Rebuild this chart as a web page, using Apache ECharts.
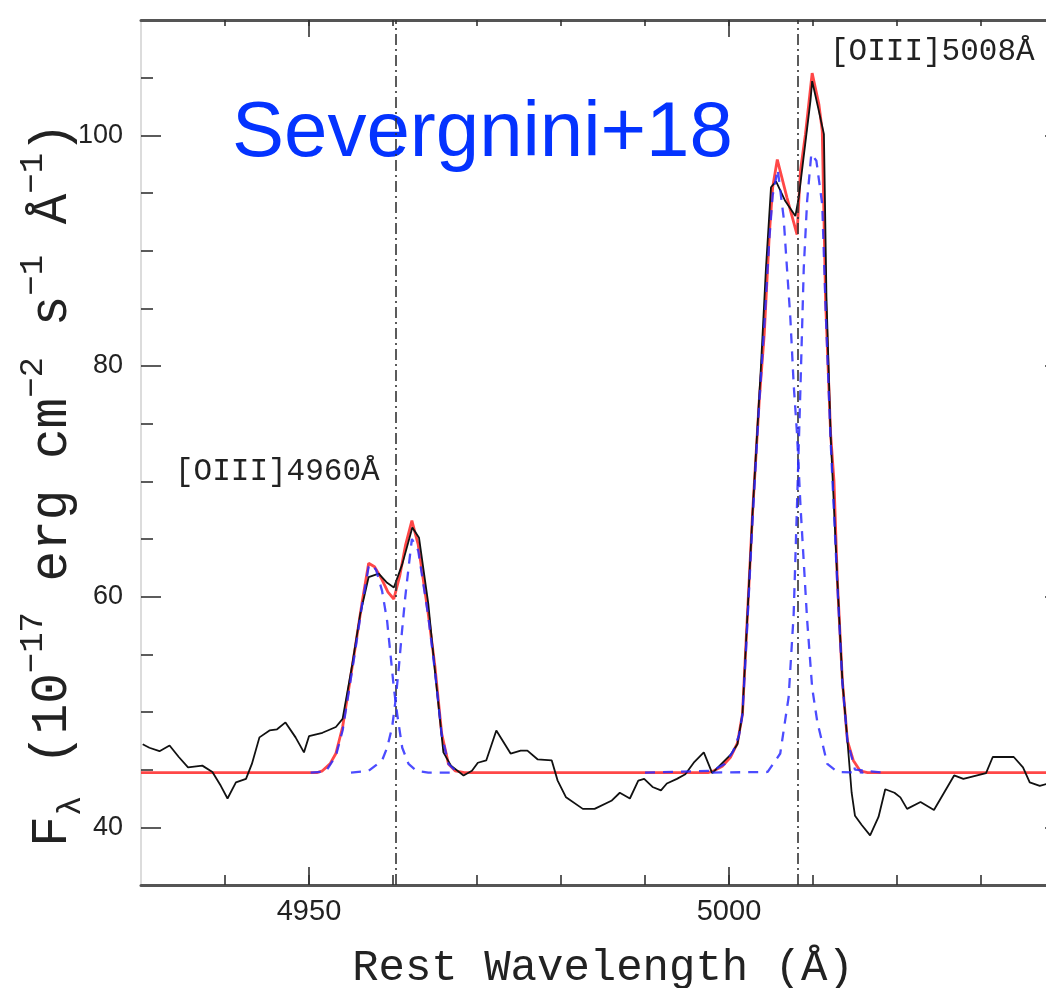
<!DOCTYPE html>
<html>
<head>
<meta charset="utf-8">
<script src="https://cdn.jsdelivr.net/npm/echarts@6/dist/echarts.min.js"></script>
<style>
html, body { margin: 0; padding: 0; background: #fff; }
#chart { width: 1046px; height: 988px; }
</style>
</head>
<body>
<div id="chart"></div>
<script>
// Observed [OIII] spectrum (rest wavelength in Å, flux in 1e-17 erg/cm2/s/Å)
const obsWave = [4930.2,4931.0,4932.2,4933.4,4934.5,4935.6,4937.3,4938.5,4939.5,4940.3,
  4941.3,4942.5,4943.2,4944.1,4945.3,4946.2,4947.2,4948.4,4949.4,4950.0,
  4951.6,4953.2,4954.0,4955.1,4956.1,4957.1,4958.3,4959.3,4960.1,4961.1,
  4962.3,4963.1,4964.2,4965.0,4966.0,4966.9,4968.4,4969.4,4970.1,4971.1,
  4972.3,4974.0,4975.2,4976.0,4977.2,4978.9,4979.6,4980.6,4982.6,4984.0,
  4986.0,4987.0,4988.2,4989.2,4989.9,4990.9,4991.9,4992.6,4993.8,4994.8,
  4995.8,4997.0,4998.0,4999.1,5000.2,5001.0,5001.6,5002.0,5002.4,5002.8,
  5003.8,5004.4,5005.0,5005.6,5006.7,5007.9,5008.3,5009.7,5009.9,5010.7,
  5011.3,5011.6,5012.1,5012.9,5013.5,5014.1,5014.6,5015.0,5015.8,5016.8,
  5017.8,5018.6,5019.7,5020.4,5021.2,5022.8,5024.4,5026.8,5027.9,5030.6,
  5031.4,5033.9,5035.0,5035.8,5037.0,5038.0,5040.0];
const obsFlux = [47.2,46.9,46.6,47.1,46.1,45.2,45.35,44.8,43.6,42.5,
  43.9,44.2,45.5,47.8,48.4,48.5,49.1,47.8,46.5,47.9,
  48.2,48.7,49.4,53.9,58.5,61.7,62.0,61.2,60.8,62.8,
  66.0,65.1,59.4,53.5,46.5,45.35,44.5,44.9,45.6,45.8,
  48.4,46.4,46.65,46.65,45.9,45.8,44.05,42.6,41.6,41.6,
  42.3,43.0,42.5,44.05,44.2,43.5,43.2,43.8,44.2,44.6,
  45.6,46.5,44.7,45.5,46.3,47.2,49.8,55.6,61.4,67.2,
  79.9,88.5,95.5,96.0,94.3,93.0,94.6,103.0,104.7,102.1,
  100.1,86.0,74.0,61.4,52.7,47.5,43.0,41.0,40.2,39.3,
  40.9,43.3,43.0,42.6,41.6,42.2,41.5,44.5,44.2,44.7,
  46.1,46.1,45.2,43.9,43.6,43.8,43.9];

// Total model (continuum + all Gaussian components)
const fitWave = [4930.0,4951.0,4951.6,4952.5,4953.2,4954.0,4954.75,4955.5,4956.3,4957.1,
  4957.8,4958.6,4959.4,4960.1,4960.8,4961.5,4962.25,4963.0,4964.2,4965.0,
  4965.8,4966.6,4967.4,4968.5,4997.5,4998.2,4999.2,5000.2,5001.0,5001.6,
  5002.0,5002.4,5002.8,5003.6,5004.2,5004.8,5005.2,5005.75,5006.9,5008.1,
  5008.5,5009.1,5009.9,5010.7,5011.1,5011.5,5012.1,5012.5,5012.9,5013.5,
  5014.1,5014.8,5015.6,5016.5,5040.0];
const fitFlux = [44.75,44.75,44.9,45.5,46.4,48.7,52.1,55.6,59.4,62.9,
  62.6,61.6,60.4,59.8,61.8,64.5,66.6,64.5,58.5,53.9,
  48.1,45.5,44.9,44.75,44.75,44.9,45.3,46.1,47.3,49.8,
  55.6,61.4,67.2,77.0,82.8,91.4,95.5,97.9,94.6,91.4,
  96.9,100.1,105.4,102.7,100.4,85.6,74.1,70.0,61.4,52.7,
  47.5,45.8,44.9,44.75,44.75];

// Individual components of [OIII]4960 (blue- and red-shifted)
const comp1Wave = [4950.2,4952.0,4953.2,4954.0,4954.75,4955.5,4956.3,4957.1,4957.5,4958.0,
  4958.7,4959.3,4959.7,4960.1,4960.5,4961.1,4961.85,4962.8,4964.2,4967.6];
const comp1Flux = [44.75,44.85,46.2,48.4,51.8,55.3,59.2,62.6,62.8,62.3,
  60.5,57.9,55.0,52.1,49.8,46.9,45.5,44.9,44.75,44.75];
const comp2Wave = [4955.0,4957.1,4958.7,4959.3,4959.9,4960.3,4960.7,4961.07,4961.45,4961.85,
  4962.25,4963.0,4964.2,4965.0,4965.8,4966.6,4967.6];
const comp2Flux = [44.75,44.9,45.8,46.9,48.7,51.0,53.9,57.0,59.9,62.5,
  65.0,64.0,58.3,53.5,48.0,45.5,44.8];

// Individual components of [OIII]5008
const comp3Wave = [4990.0,4998.0,4999.5,5000.5,5001.2,5001.6,5002.0,5002.4,5002.8,5003.6,
  5004.2,5004.8,5005.2,5005.8,5006.5,5006.9,5007.3,5007.7,5008.1,5008.5,
  5009.3,5009.9,5010.5,5011.7,5012.9,5016.0];
const comp3Flux = [44.75,44.9,45.5,46.6,48.0,49.8,55.0,60.8,66.5,76.8,
  83.5,91.0,94.8,97.05,92.9,88.5,84.2,78.4,74.1,68.0,
  58.0,52.1,49.2,45.5,44.8,44.75];
const comp4Wave = [4998.0,5004.6,5006.1,5007.1,5007.7,5008.1,5008.5,5008.9,5009.3,5009.8,
  5010.4,5011.1,5011.5,5012.1,5012.9,5013.5,5014.1,5015.0,5018.3];
const comp4Flux = [44.75,44.8,46.4,51.3,58.5,68.0,78.0,88.5,94.3,98.4,
  97.8,94.0,85.0,73.5,61.0,52.5,47.5,45.0,44.75];

// Rest wavelengths of the two lines
const lineWaves = [4960.3, 5008.2];

// Axis ticks
const xMinorTicks = [4940, 4950, 4960, 4970, 4980, 4990, 5000, 5010, 5020, 5030];
const xMajorTicks = [4950, 5000];
const yMinorTicks = [45, 50, 55, 65, 70, 75, 85, 90, 95, 105];
const yMajorTicks = [40, 60, 80, 100];

const zip = (w, f) => w.map((x, i) => [x, f[i]]);

const X_MIN = 4930, X_MAX = 5040, Y_MIN = 35, Y_MAX = 110;
const serifMono = 'Liberation Mono';
const sans = 'Liberation Sans';
const plain = v => String(v);

function xAx(opts) {
  return Object.assign({
    type: 'value', min: X_MIN, max: X_MAX, gridIndex: 0,
    splitLine: { show: false },
    axisLine: { show: false },
    axisLabel: { show: false },
    axisTick: { show: false }
  }, opts);
}
function yAx(opts) {
  return Object.assign({
    type: 'value', min: Y_MIN, max: Y_MAX, gridIndex: 0,
    splitLine: { show: false },
    axisLine: { show: false },
    axisLabel: { show: false },
    axisTick: { show: false }
  }, opts);
}

const tickStyle = { color: '#333', width: 1.6 };

const chart = echarts.init(document.getElementById('chart'), null, { renderer: 'canvas' });

const option = {
  animation: false,
  backgroundColor: '#ffffff',
  grid: { left: 141, top: 20, right: -19, bottom: 103, containLabel: false, outerBoundsMode: 'none' },
  xAxis: [
    xAx({
      position: 'bottom',
      axisLine: { show: true, onZero: false, lineStyle: { color: '#555', width: 3 } },
      axisTick: { show: true, inside: true, length: 10, customValues: xMinorTicks, lineStyle: tickStyle },
      axisLabel: { show: true, customValues: xMajorTicks, formatter: plain, fontSize: 29, color: '#222',
        fontFamily: sans, margin: 12 },
      name: 'Rest Wavelength (Å)',
      nameLocation: 'middle',
      nameGap: 61,
      nameMoveOverlap: false,
      nameTextStyle: { fontFamily: serifMono, fontSize: 44, color: '#222' }
    }),
    xAx({
      position: 'bottom',
      axisTick: { show: true, inside: true, length: 18, customValues: xMajorTicks, lineStyle: tickStyle }
    }),
    xAx({
      position: 'top',
      axisLine: { show: true, onZero: false, lineStyle: { color: '#555', width: 3 } },
      axisTick: { show: true, inside: true, length: 6, customValues: xMinorTicks, lineStyle: tickStyle }
    }),
    xAx({
      position: 'top',
      axisTick: { show: true, inside: true, length: 17, customValues: xMajorTicks, lineStyle: tickStyle }
    })
  ],
  yAxis: [
    yAx({
      position: 'left',
      axisLine: { show: true, onZero: false, lineStyle: { color: '#d0d0d0', width: 1.5 } },
      axisTick: { show: true, inside: true, length: 12, customValues: yMinorTicks, lineStyle: tickStyle },
      axisLabel: { show: true, customValues: yMajorTicks, formatter: plain, fontSize: 27, color: '#222',
        fontFamily: sans, margin: 18 },
      name: '{b|F}{sub|λ}{b| (10}{sup|−17}{b| erg cm}{sup|−2}{b| s}{sup|−1}{b| Å}{sup|−1}{b|)}',
      nameLocation: 'middle',
      nameRotate: 90,
      nameGap: 53,
      nameMoveOverlap: false,
      nameTextStyle: {
        padding: [0, 64, 0, 0],
        rich: {
          b: { fontFamily: serifMono, fontSize: 51, color: '#222', lineHeight: 72, verticalAlign: 'middle' },
          sup: { fontFamily: serifMono, fontSize: 34, color: '#222', lineHeight: 52, verticalAlign: 'top' },
          sub: { fontFamily: serifMono, fontSize: 34, color: '#222', lineHeight: 44, verticalAlign: 'bottom' }
        }
      }
    }),
    yAx({
      position: 'left',
      axisTick: { show: true, inside: true, length: 20, customValues: yMajorTicks, lineStyle: tickStyle }
    }),
    yAx({
      position: 'right',
      axisLine: { show: true, onZero: false, lineStyle: { color: '#555', width: 3 } },
      axisTick: { show: true, inside: true, length: 20, customValues: yMajorTicks, lineStyle: tickStyle }
    })
  ],
  series: [
    {
      name: 'model', type: 'line', data: zip(fitWave, fitFlux),
      showSymbol: false, z: 3,
      lineStyle: { color: 'rgba(255,45,45,0.88)', width: 2.8 }
    },
    {
      name: 'observed', type: 'line', data: zip(obsWave, obsFlux),
      showSymbol: false, z: 4,
      lineStyle: { color: '#111', width: 1.8 },
      markLine: {
        silent: true, symbol: ['none', 'none'],
        label: { show: false },
        lineStyle: { color: '#333', width: 1.6, type: [11, 4, 2, 4] },
        data: lineWaves.map(v => ({ xAxis: v }))
      }
    },
    ...[[comp1Wave, comp1Flux], [comp2Wave, comp2Flux], [comp3Wave, comp3Flux], [comp4Wave, comp4Flux]]
      .map(([w, f], i) => ({
        name: 'component ' + (i + 1), type: 'line', data: zip(w, f),
        showSymbol: false, z: 5,
        lineStyle: { color: 'rgba(45,45,255,0.85)', width: 2.3, type: [10, 8] }
      }))
  ],
  graphic: [
    { type: 'text', x: 232, y: 134,
      style: { text: 'Severgnini+18', fill: '#0433ff', font: '78px "Liberation Sans"',
        verticalAlign: 'middle', align: 'left' } },
    { type: 'text', x: 175, y: 472,
      style: { text: '[OIII]4960Å', fill: '#222', font: '31px "Liberation Mono"',
        verticalAlign: 'middle', align: 'left' } },
    { type: 'text', x: 830, y: 52,
      style: { text: '[OIII]5008Å', fill: '#222', font: '31px "Liberation Mono"',
        verticalAlign: 'middle', align: 'left' } }
  ]
};

chart.setOption(option);
</script>
</body>
</html>
